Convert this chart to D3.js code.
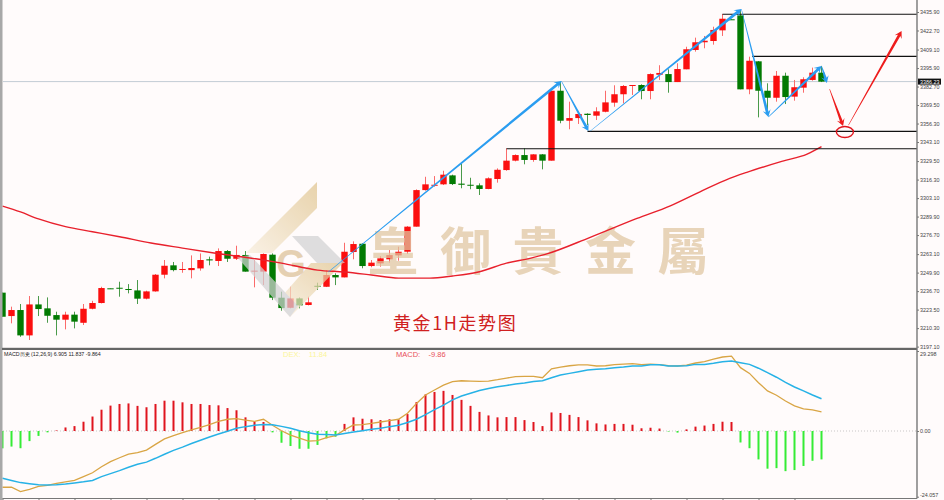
<!DOCTYPE html>
<html>
<head>
<meta charset="UTF-8">
<title>黄金1H走势图</title>
<script src="https://d3js.org/d3.v7.min.js"></script>
<style>
    html, body {margin: 0; padding: 0; background: #fffbfb;}
    svg {display: block;}
    .tick text {font-family: "Liberation Sans", sans-serif; font-size: 5.4px; fill: #444;}
    .tick line, .domain {stroke: #777;}
</style>
</head>
<body>
<div id="chart"></div>
<script>
    // one hour candles
    var opens = [3235.6,3218.9,3223.2,3205.1,3227.2,3224.4,3219.6,3216.3,3219.9,3214.1,3224.1,3228.2,3238.7,3239.1,3238.2,3237.2,3231.3,3236.5,3248.4,3255.1,3252.0,3251.7,3252.9,3259.4,3258.2,3265.3,3259.8,3262.5,3250.8,3250.6,3262.7,3232.0,3224.8,3231.5,3226.8,3240.5,3239.8,3248.2,3246.5,3264.6,3270.5,3254.6,3256.5,3259.4,3262.2,3264.8,3282.7,3308.8,3312.4,3312.9,3319.3,3313.4,3312.6,3312.2,3309.6,3316.7,3323.1,3329.8,3333.8,3330.3,3334.3,3329.8,3379.7,3358.3,3360.2,3363.3,3361.9,3364.7,3371.2,3377.2,3383.1,3383.8,3379.5,3391.1,3391.6,3385.9,3395.0,3408.8,3414.3,3415.2,3422.8,3430.7,3433.5,3380.7,3400.7,3379.7,3374.7,3390.4,3375.5,3381.9,3387.4,3392.6];
    var closes = [3218.4,3223.2,3205.1,3227.2,3223.9,3219.1,3216.3,3219.9,3214.9,3224.1,3228.2,3238.9,3238.4,3238.6,3237.5,3231.3,3236.5,3248.4,3254.8,3251.7,3252.5,3253.2,3258.9,3258.6,3265.3,3259.8,3262.5,3250.6,3251.3,3263.2,3232.0,3224.6,3231.5,3226.5,3228.7,3240.0,3248.2,3246.5,3264.8,3270.3,3254.6,3257.0,3260.1,3262.4,3264.8,3282.7,3308.8,3312.9,3312.6,3319.8,3313.1,3312.6,3312.2,3309.6,3317.2,3323.3,3329.8,3333.8,3330.3,3334.3,3329.8,3379.7,3358.3,3360.2,3363.1,3362.4,3365.0,3371.4,3377.2,3383.1,3383.8,3379.5,3391.6,3392.4,3385.9,3395.2,3409.3,3414.3,3415.4,3423.1,3431.1,3430.4,3380.7,3401.1,3379.7,3374.7,3390.4,3375.2,3382.2,3387.9,3392.6,3386.2];
    var highs = [3235.6,3225.6,3227.5,3233.2,3233.2,3232.2,3222.0,3222.0,3222.0,3227.5,3229.8,3239.8,3238.7,3243.4,3241.7,3244.6,3237.0,3248.9,3258.9,3257.5,3257.5,3262.2,3263.6,3261.3,3267.2,3266.0,3269.1,3265.3,3258.9,3263.6,3263.6,3236.3,3239.8,3232.2,3232.7,3242.7,3251.7,3249.4,3271.2,3272.2,3270.8,3258.9,3261.7,3266.0,3268.4,3283.1,3309.3,3318.3,3318.8,3322.6,3319.8,3327.4,3317.6,3313.6,3317.9,3324.3,3338.6,3334.3,3338.6,3334.5,3334.5,3379.7,3386.2,3371.9,3364.7,3363.6,3367.9,3379.7,3383.6,3383.8,3383.8,3384.3,3392.1,3397.9,3395.0,3399.3,3411.1,3417.6,3418.8,3425.4,3434.5,3430.7,3437.3,3404.0,3400.9,3385.0,3393.8,3392.6,3387.4,3389.3,3396.2,3397.4];
    var lows = [3218.4,3213.7,3204.1,3201.8,3218.9,3214.1,3205.1,3209.4,3210.1,3212.5,3223.7,3227.9,3238.4,3232.7,3235.1,3227.5,3230.8,3236.3,3245.8,3250.8,3249.8,3245.8,3251.3,3255.1,3254.6,3257.5,3258.9,3250.6,3239.4,3241.0,3230.3,3222.7,3224.4,3224.4,3226.5,3237.5,3239.6,3241.0,3246.5,3259.4,3253.0,3253.7,3254.1,3257.0,3258.4,3263.2,3282.7,3308.4,3311.2,3312.4,3312.4,3310.1,3309.4,3305.3,3309.4,3314.1,3322.6,3329.3,3327.2,3329.0,3323.6,3329.8,3356.5,3352.2,3356.0,3355.2,3358.8,3364.3,3368.3,3370.7,3376.7,3373.6,3373.6,3387.4,3378.3,3385.9,3395.0,3407.6,3410.0,3412.6,3418.8,3430.4,3380.7,3377.2,3360.7,3363.6,3371.9,3370.2,3372.6,3378.3,3386.9,3385.9];

    // long moving average, bar number and price
    var maBars = [0,2,4,7,10,13,16.5,20,23.5,29,31,35,38,41,44,47.5,50,53,56,58.6,60.3,65.3,70.5,74.2,77.5,80.8,82.7,86.7,89.4,91];
    var maValues = [3297.4,3293.2,3288.2,3282.7,3279.1,3275.5,3271.0,3267.4,3263.9,3258.9,3256.7,3251.7,3250.3,3248.2,3246.0,3246.0,3247.5,3250.5,3256.7,3260.1,3262.9,3275.1,3288.6,3297.6,3307.6,3317.2,3321.5,3329.5,3334.5,3339.8];

    var macdHist = [-6.35,-5.7,-6.3,-3.7,-1.8,-0.5,0.2,1.3,1.8,3.4,5.3,7.8,9.3,9.9,10.1,9.2,8.7,9.9,11.1,11.1,10.5,9.9,9.9,9.5,9.4,8.4,7.6,5.0,3.5,3.3,-0.5,-4.3,-5.5,-6.5,-6.5,-5.1,-2.7,-2.1,2.6,5.0,4.5,4.3,4.0,4.3,4.3,6.2,10.6,13.4,14.3,14.7,13.2,11.4,9.2,7.0,5.7,5.0,5.1,5.1,4.0,3.3,1.8,6.8,6.6,5.9,5.1,3.9,2.8,2.4,2.6,2.6,2.3,1.0,1.2,0.9,-0.2,-0.6,0.6,1.6,2.0,2.6,3.4,3.3,-4.2,-6.3,-10.4,-13.8,-13.6,-14.7,-14.3,-12.8,-10.9,-10.4];
    var macdBlue = [-17.3,-18.1,-18.9,-19.3,-19.7,-19.8,-19.7,-19.4,-19.0,-18.6,-18.1,-16.7,-15.6,-14.5,-13.3,-12.2,-11.4,-10.0,-8.5,-7.1,-5.9,-4.6,-3.4,-2.2,-1.1,-0.1,1.0,1.6,2.1,2.4,2.3,1.7,1.0,0.1,-0.6,-1.2,-1.3,-1.5,-0.9,-0.4,0.1,0.6,1.0,1.6,2.1,3.1,4.3,6.0,7.8,9.5,11.4,12.8,13.8,14.8,15.6,16.2,16.7,17.2,17.6,18.1,18.4,19.5,20.5,21.1,21.7,22.3,22.6,22.8,23.2,23.4,23.8,23.8,24.3,24.3,23.8,23.8,23.9,24.4,24.4,24.8,25.4,25.6,25.0,24.4,23.0,21.4,19.7,17.8,16.1,14.7,13.2,11.8];
    var macdTan = [-20.6,-20.6,-22.2,-21.4,-20.3,-19.9,-19.2,-18.6,-18.1,-16.7,-15.3,-13.1,-11.2,-9.8,-8.5,-7.9,-7.0,-4.9,-2.9,-1.7,-0.6,0.4,1.3,2.3,3.5,4.3,4.5,4.0,3.5,4.3,2.1,0.1,-1.5,-2.6,-3.7,-3.5,-2.4,-1.7,0.4,2.2,2.3,2.8,3.3,3.8,4.3,6.5,10.1,13.2,15.0,16.8,18.1,18.4,18.3,18.2,18.3,18.8,19.4,19.9,20.0,20.0,19.5,22.8,23.4,23.9,24.2,24.2,23.8,23.9,24.3,24.5,24.7,24.3,24.5,24.3,23.9,23.8,24.1,24.9,25.4,26.3,27.1,27.4,23.2,21.1,17.7,14.7,13.1,11.0,9.2,8.1,7.7,7.0];

    var priceTicks = [3435.9,3422.7,3409.1,3395.9,3382.7,3369.5,3356.3,3343.1,3329.5,3316.3,3303.1,3289.9,3276.7,3263.1,3249.9,3236.7,3223.5,3210.3,3197.1];
    var macdTicks = [29.298,0,-24.057];
    var macdTickLabels = ["29.298","0.00","-24.057"];
    var lastPrice = 3386.23;

    // support and resistance lines: first bar, price
    var levelBars = [80,83.3,65,56];
    var levelPrices = [3434.3,3404.3,3350.7,3338.3];

    // drawn arrows: bar and price of both ends
    var blueArrows = [
        [36.2,3250.3,62.1,3386.6],
        [62.1,3386.6,65.1,3350.9],
        [65.3,3350.9,82.1,3438.0],
        [82.1,3438.0,85.1,3361.0],
        [85.1,3361.0,91,3397.4],
        [91,3397.4,91.6,3385.2]
    ];
    var redArrows = [
        [91.9,3380.9,93.4,3354.5],
        [94,3355.2,99.9,3422.3]
    ];
    var targetBar = 93.6, targetPrice = 3350.3;

    var watermarkChars = ["皇","御","貴","金","屬"];

    var width = 944, height = 500,
        axisX = 917, panelY = 349, bottomY = 498.5;

    var x = d3.scaleLinear().domain([0, 91]).range([2.5, 821.5]);
    var yPrice = d3.scaleLinear().domain([3197.1, 3435.9]).range([346.6, 12]);
    var yMacd = d3.scaleLinear().domain([-24.057, 29.298]).range([496.7, 351]);

    var svg = d3.select("#chart").append("svg")
        .attr("width", width)
        .attr("height", height)
        .style("background", "#fffbfb");

    var defs = svg.append("defs");
    var grad = defs.append("linearGradient").attr("id", "tan")
        .attr("x1", "0%").attr("x2", "100%").attr("y1", "100%").attr("y2", "0%");
    grad.append("stop").attr("offset", "0%").attr("stop-color", "#f8eedd");
    grad.append("stop").attr("offset", "100%").attr("stop-color", "#e0c48e");

    var bars = d3.range(opens.length);

    // last price line
    svg.append("line")
        .attr("x1", 3).attr("x2", axisX)
        .attr("y1", yPrice(lastPrice)).attr("y2", yPrice(lastPrice))
        .attr("stroke", "#c3ccd4").attr("stroke-width", 1);

    // wicks then bodies
    svg.append("g").selectAll("line").data(bars).enter().append("line")
        .attr("x1", function(d) {return x(d)})
        .attr("x2", function(d) {return x(d)})
        .attr("y1", function(d) {return yPrice(highs[d])})
        .attr("y2", function(d) {return yPrice(lows[d])})
        .attr("stroke", function(d) {return closes[d] >= opens[d] ? "#fb6a6a" : "#4a9a4a"})
        .attr("stroke-width", 1);

    svg.append("g").selectAll("rect").data(bars).enter().append("rect")
        .attr("x", function(d) {return x(d) - 3.2})
        .attr("width", 6.4)
        .attr("y", function(d) {return yPrice(Math.max(opens[d], closes[d]))})
        .attr("height", function(d) {return Math.max(1, Math.abs(yPrice(opens[d]) - yPrice(closes[d])))})
        .attr("fill", function(d) {return closes[d] >= opens[d] ? "#fb0f0f" : "#027a02"});

    // watermark sits over the candles
    var mark = svg.append("g").attr("opacity", 0.72);
    mark.append("polygon").attr("points", "317,182 317,208 272,253 246,253").attr("fill", "url(#tan)");
    mark.append("polygon").attr("points", "290,317 343,263 311,263 277,302").attr("fill", "url(#tan)");
    mark.append("polygon").attr("points", "292,236 318,236 345,263 317,263").attr("fill", "#d2d2d4");
    mark.append("polygon").attr("points", "237,257 250,255 298,306 290,317").attr("fill", "#d2d2d4");
    mark.append("text").attr("x", 291).attr("y", 277)
        .attr("text-anchor", "middle")
        .attr("font-family", "Liberation Sans").attr("font-weight", "bold").attr("font-size", 38)
        .attr("fill", "#dcc096").text("G");
    mark.selectAll("text.wm").data(watermarkChars).enter().append("text")
        .attr("class", "wm")
        .attr("x", function(d, i) {return 393 + i*72.5})
        .attr("y", 270)
        .attr("text-anchor", "middle")
        .attr("font-family", "Noto Sans CJK TC").attr("font-weight", "bold").attr("font-size", 51)
        .attr("fill", "#e0c6a0")
        .text(function(d) {return d});

    // moving average
    var maLine = d3.line()
        .x(function(d) {return x(d)})
        .y(function(d, i) {return yPrice(maValues[i])})
        .curve(d3.curveMonotoneX);
    svg.append("path").attr("d", maLine(maBars))
        .attr("fill", "none").attr("stroke", "#e8202c").attr("stroke-width", 1.4);

    // black levels
    svg.append("g").selectAll("line").data(levelBars).enter().append("line")
        .attr("x1", function(d) {return x(d)})
        .attr("x2", axisX)
        .attr("y1", function(d, i) {return yPrice(levelPrices[i])})
        .attr("y2", function(d, i) {return yPrice(levelPrices[i])})
        .attr("stroke", "#111").attr("stroke-width", 1.2);

    // tapered arrow: thin at the start, thick at the head
    function arrow(g, a, color, w) {
        var x0 = x(a[0]), y0 = yPrice(a[1]), x1 = x(a[2]), y1 = yPrice(a[3]);
        var len = Math.sqrt((x1-x0)*(x1-x0) + (y1-y0)*(y1-y0));
        var ux = (x1-x0)/len, uy = (y1-y0)/len, nx = -uy, ny = ux;
        var pts = [
            [x0 + nx*0.25, y0 + ny*0.25],
            [x1 - ux*5 + nx*w/2, y1 - uy*5 + ny*w/2],
            [x1 - ux*7 + nx*4, y1 - uy*7 + ny*4],
            [x1, y1],
            [x1 - ux*7 - nx*4, y1 - uy*7 - ny*4],
            [x1 - ux*5 - nx*w/2, y1 - uy*5 - ny*w/2],
            [x0 - nx*0.25, y0 - ny*0.25]
        ];
        g.append("polygon")
            .attr("points", pts.map(function(p) {return p.join(",")}).join(" "))
            .attr("fill", color);
    }

    var arrowG = svg.append("g");
    blueArrows.forEach(function(a) {arrow(arrowG, a, "#2b9df0", 2.8)});
    redArrows.forEach(function(a) {arrow(arrowG, a, "#ee1c1c", 2.8)});

    svg.append("ellipse")
        .attr("cx", x(targetBar)).attr("cy", yPrice(targetPrice))
        .attr("rx", 8.5).attr("ry", 5.5)
        .attr("fill", "none").attr("stroke", "#e0141c").attr("stroke-width", 1.4);

    svg.append("text").attr("x", 393).attr("y", 330)
        .attr("font-family", "Noto Sans CJK SC").attr("font-size", 18)
        .attr("letter-spacing", 1.6)
        .attr("fill", "#d02020").text("黄金1H走势图");

    // MACD panel
    svg.append("line")
        .attr("x1", 3).attr("x2", axisX)
        .attr("y1", yMacd(0)).attr("y2", yMacd(0))
        .attr("stroke", "#bbb").attr("stroke-width", 0.8).attr("stroke-dasharray", "1,2");

    svg.append("g").selectAll("rect").data(bars).enter().append("rect")
        .attr("x", function(d) {return x(d) - 1})
        .attr("width", 2)
        .attr("y", function(d) {return yMacd(Math.max(0, macdHist[d]))})
        .attr("height", function(d) {return Math.abs(yMacd(macdHist[d]) - yMacd(0))})
        .attr("fill", function(d) {return macdHist[d] >= 0 ? "#e0141e" : "#35ec35"});

    function macdPath(values) {
        return d3.line()
            .x(function(d) {return x(d)})
            .y(function(d) {return yMacd(values[d])})(bars);
    }
    svg.append("path").attr("d", macdPath(macdTan))
        .attr("fill", "none").attr("stroke", "#d9a544").attr("stroke-width", 1.3);
    svg.append("path").attr("d", macdPath(macdBlue))
        .attr("fill", "none").attr("stroke", "#27b2e6").attr("stroke-width", 1.5);

    svg.append("text").attr("x", 4).attr("y", 356)
        .attr("font-family", "Liberation Sans").attr("font-size", 5.3).attr("fill", "#222")
        .text("MACD历史 (12,26,9) 6.905 11.837 -9.864");
    svg.append("text").attr("x", 283).attr("y", 357)
        .attr("font-family", "Liberation Sans").attr("font-size", 7.5).attr("fill", "#fbf59a")
        .attr("xml:space", "preserve").text("DEX:    11.84");
    svg.append("text").attr("x", 396).attr("y", 357)
        .attr("font-family", "Liberation Sans").attr("font-size", 7.5).attr("fill", "#e8505a")
        .attr("xml:space", "preserve").text("MACD:    -9.86");

    // frame and axes
    svg.append("rect").attr("x", 0).attr("y", 0).attr("width", 2.5).attr("height", height).attr("fill", "#a8a8a8");
    svg.append("rect").attr("x", 2).attr("y", panelY - 1.2).attr("width", axisX - 2).attr("height", 2.2).attr("fill", "#666");

    svg.append("g").attr("transform", "translate(" + axisX + ",0)")
        .call(d3.axisRight(yPrice).tickValues(priceTicks).tickFormat(d3.format(".2f")).tickSize(2).tickPadding(1).tickSizeOuter(0))
        .call(function(g) {g.select(".domain").remove()});

    var macdAxis = svg.append("g").attr("transform", "translate(" + axisX + ",0)")
        .call(d3.axisRight(yMacd).tickValues(macdTicks)
            .tickFormat(function(d, i) {return macdTickLabels[i]}).tickSize(2).tickPadding(1).tickSizeOuter(0));
    macdAxis.select(".domain").remove();
    macdAxis.selectAll("text").attr("dy", function(d) {return d > 20 ? "0.9em" : d < -20 ? "-0.1em" : "0.32em"});

    svg.append("line").attr("x1", axisX).attr("x2", axisX).attr("y1", 0).attr("y2", bottomY)
        .attr("stroke", "#777").attr("stroke-width", 1.4);

    var timeAxis = svg.append("g").attr("transform", "translate(0," + bottomY + ")")
        .call(d3.axisBottom(x).tickValues(d3.range(0, 92, 4)).tickFormat("").tickSize(2).tickSizeOuter(0));
    timeAxis.select(".domain").attr("d", "M2.5,0H" + axisX).attr("stroke-width", 1.2);

    // last price tag
    var tag = svg.append("g").attr("transform", "translate(" + (axisX + 1) + "," + yPrice(lastPrice) + ")");
    tag.append("rect").attr("y", -3).attr("width", 23).attr("height", 6).attr("fill", "#111");
    tag.append("text").attr("x", 2).attr("y", 2)
        .attr("font-family", "Liberation Sans").attr("font-size", 5.4).attr("fill", "#fff")
        .text(d3.format(".2f")(lastPrice));
</script>
</body>
</html>
